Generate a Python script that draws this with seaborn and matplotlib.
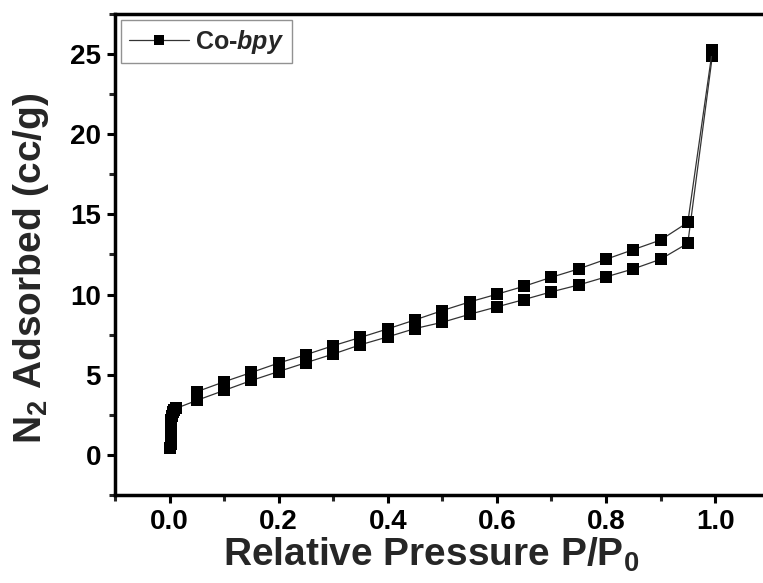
import numpy as np
import pandas as pd
import matplotlib
matplotlib.use("Agg")
import matplotlib.pyplot as plt
import seaborn as sns
from matplotlib.ticker import MultipleLocator

# Adsorption branch (lower)
ads_p = [0.0015, 0.0018, 0.002, 0.0022, 0.0024, 0.0026, 0.003, 0.004, 0.006, 0.009, 0.012,
         0.05, 0.10, 0.15, 0.20, 0.25, 0.30, 0.35, 0.40, 0.45, 0.50, 0.55, 0.60, 0.65,
         0.70, 0.75, 0.80, 0.85, 0.90, 0.95, 0.995]
ads_v = [0.4, 0.7, 1.0, 1.3, 1.6, 1.9, 2.2, 2.45, 2.65, 2.8, 2.9,
         3.40, 4.02, 4.64, 5.20, 5.75, 6.29, 6.87, 7.36, 7.88, 8.27, 8.77, 9.23, 9.69,
         10.17, 10.60, 11.10, 11.60, 12.20, 13.20, 24.90]
# Desorption branch (upper)
des_p = [0.995, 0.95, 0.90, 0.85, 0.80, 0.75, 0.70, 0.65, 0.60, 0.55, 0.50, 0.45,
         0.40, 0.35, 0.30, 0.25, 0.20, 0.15, 0.10, 0.05]
des_v = [25.25, 14.50, 13.40, 12.80, 12.20, 11.60, 11.08, 10.52, 10.02, 9.54, 9.00, 8.42,
         7.86, 7.33, 6.81, 6.25, 5.73, 5.14, 4.56, 3.94]

sns.set_theme(style="ticks")
plt.rcParams['font.family'] = ['Liberation Sans', 'DejaVu Sans']
plt.rcParams['font.weight'] = 'bold'
plt.rcParams['mathtext.fontset'] = 'custom'
plt.rcParams['mathtext.rm'] = 'Liberation Sans:bold'
plt.rcParams['mathtext.bf'] = 'Liberation Sans:bold'
plt.rcParams['mathtext.it'] = 'Liberation Sans:bold:italic'

fig = plt.figure(figsize=(7.63, 5.83), dpi=100)
ax = fig.add_axes([0.1507, 0.151, 0.858, 0.825])

df_a = pd.DataFrame({"p": ads_p, "v": ads_v})
df_d = pd.DataFrame({"p": des_p, "v": des_v})

kw = dict(color="black", marker="s", markersize=8, markeredgewidth=0,
          linewidth=0.9, sort=False, estimator=None, ax=ax)
sns.lineplot(data=df_a, x="p", y="v", label=r"Co-$\mathit{bpy}$", **kw)
sns.lineplot(data=df_d, x="p", y="v", **kw)
for ln in ax.lines:
    ln.set_color("#333333")
    ln.set_markerfacecolor("black")
    ln.set_markeredgecolor("black")

ax.set_xlim(-0.1, 1.1)
ax.set_ylim(-2.5, 27.5)
ax.xaxis.set_major_locator(MultipleLocator(0.2))
ax.xaxis.set_minor_locator(MultipleLocator(0.1))
ax.yaxis.set_major_locator(MultipleLocator(5))
ax.yaxis.set_minor_locator(MultipleLocator(2.5))
ax.set_xticks([0.0, 0.2, 0.4, 0.6, 0.8, 1.0])
ax.set_xticklabels(["0.0", "0.2", "0.4", "0.6", "0.8", "1.0"])

for s in ax.spines.values():
    s.set_linewidth(2.5)
    s.set_color("black")
ax.tick_params(which="major", direction="out", length=6, width=2.2, labelsize=20,
               colors="black", top=False, right=False, pad=4)
ax.tick_params(which="minor", direction="out", length=4, width=2.2, top=False, right=False)
for lab in ax.get_xticklabels() + ax.get_yticklabels():
    lab.set_fontweight("bold")

ax.set_xlabel(r"Relative Pressure P/P$_\mathregular{0}$", fontsize=28, fontweight="bold")
ax.set_ylabel(r"N$_\mathregular{2}$ Adsorbed (cc/g)", fontsize=28, fontweight="bold")
ax.xaxis.set_label_coords(0.483, -0.085)
ax.xaxis.label.set_va("top")
ax.yaxis.set_label_coords(-0.098, 0.472)

leg = ax.legend(loc="upper left", frameon=True, fancybox=False, fontsize=18,
                borderaxespad=0.25, handlelength=2.4, borderpad=0.3, handletextpad=0.25)
leg.get_frame().set_edgecolor("#777777")
leg.get_frame().set_linewidth(1.0)
for t in leg.get_texts():
    t.set_fontweight("bold")
for h in leg.legend_handles:
    h.set_markersize(6.5)

fig.savefig("out.png", dpi=100)
